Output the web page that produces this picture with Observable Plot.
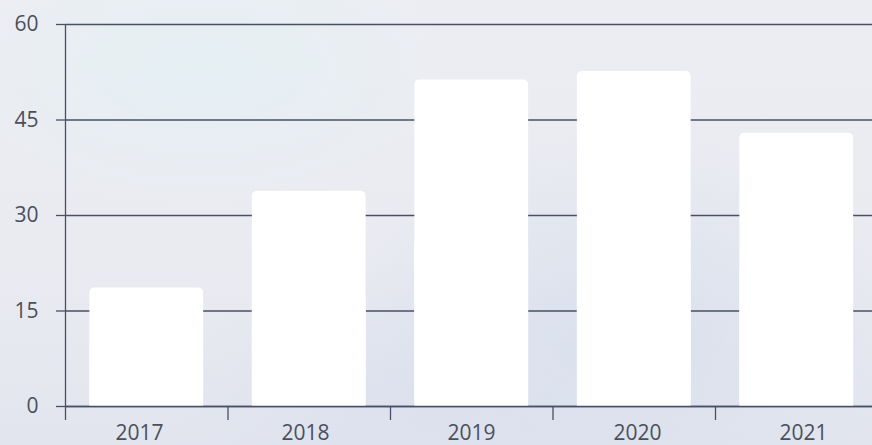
<!DOCTYPE html>
<html>
<head>
<meta charset="utf-8">
<script src="https://cdn.jsdelivr.net/npm/d3@7"></script>
<script src="https://cdn.jsdelivr.net/npm/@observablehq/plot@0.6"></script>
<style>
  html, body { margin: 0; padding: 0; }
  body {
    width: 872px; height: 445px; overflow: hidden; position: relative;
    background:
      radial-gradient(ellipse 260px 140px at 200px 70px, rgba(228,240,243,0.9), rgba(228,240,243,0) 100%),
      radial-gradient(ellipse 300px 200px at 620px 330px, rgba(214,222,236,0.8), rgba(214,222,236,0) 100%),
      radial-gradient(ellipse 260px 160px at 420px 420px, rgba(220,224,238,0.8), rgba(220,224,238,0) 100%),
      linear-gradient(180deg, #ecedf2 0%, #eaebf1 60%, #e2e5ee 100%);
  }
  #chart, #labels { position: absolute; left: 0; top: 0; }
  #labels { pointer-events: none; }
  svg { background: transparent !important; }
</style>
</head>
<body>
<div id="chart"></div>
<div id="labels"></div>
<script>
const years = ["2017", "2018", "2019", "2020", "2021"];
const values = [18.6, 33.8, 51.3, 52.6, 42.9];
const yTicks = [0, 15, 30, 45, 60];

const rows = years.map((year, i) => ({year, i, value: values[i]}));
const boundaries = years.map((_, i) => i);

const lineColor = "#475064";
const textColor = "#4a4f5c";
const font = "'Open Sans', sans-serif";

const chart = Plot.plot({
  width: 872,
  height: 445,
  marginTop: 24,
  marginBottom: 39,
  marginLeft: 65,
  marginRight: 0,
  style: {background: "transparent", fontFamily: font, fontSize: "21px", color: textColor},
  x: {domain: [0, 5], range: [65, 877.5], axis: null},
  y: {domain: [0, 60], axis: null},
  marks: [
    Plot.gridY(yTicks, {stroke: lineColor, strokeOpacity: 1, strokeWidth: 1.3}),
    Plot.rectY(rows, {x1: d => d.i + 0.15, x2: d => d.i + 0.85, y: "value", fill: "#ffffff", rx: 5}),
    Plot.rectY(rows, {x1: d => d.i + 0.15, x2: d => d.i + 0.85, y: d => d.value / 2, fill: "#ffffff"}),
    Plot.ruleY([0], {stroke: lineColor, strokeWidth: 1.5}),
    Plot.ruleX([0], {stroke: lineColor, strokeWidth: 1.3}),
    Plot.axisY(yTicks, {tickSize: 9, tickPadding: 18, stroke: lineColor, strokeWidth: 1.3, fill: textColor, label: null, fontSize: 21}),
    Plot.axisX(boundaries, {tickSize: 14, tickFormat: () => "", stroke: lineColor, strokeWidth: 1.3, label: null})
  ]
});
document.getElementById("chart").append(chart);

const labels = Plot.plot({
  width: 872,
  height: 445,
  marginTop: 0,
  marginBottom: 23,
  marginLeft: 0,
  marginRight: 0,
  style: {background: "transparent", fontFamily: font, fontSize: "21px", color: textColor},
  x: {type: "band", domain: years, range: [54.2, 887.2], padding: 0, axis: null},
  marks: [
    Plot.axisX({tickSize: 0, tickPadding: 3, fill: textColor, label: null, fontSize: 21})
  ]
});
document.getElementById("labels").append(labels);
</script>
</body>
</html>
